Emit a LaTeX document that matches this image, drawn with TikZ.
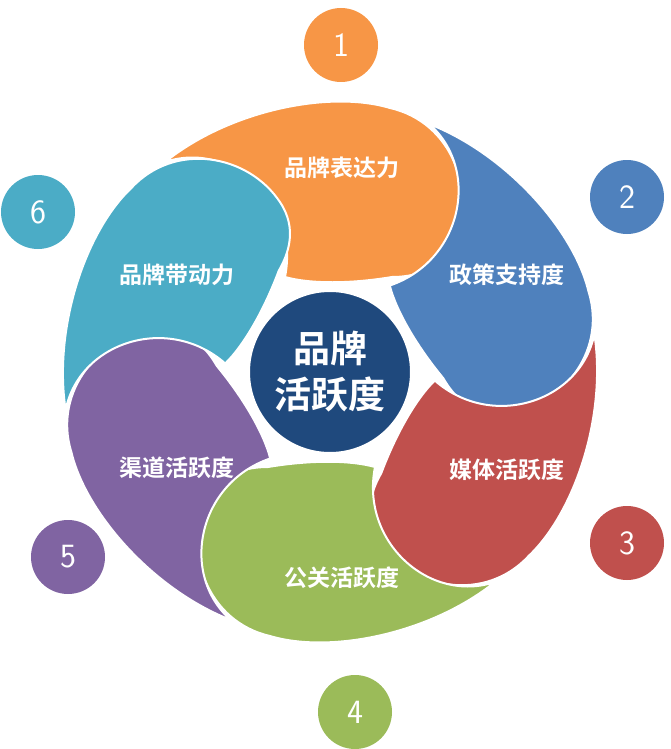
\documentclass[tikz,border=0pt]{standalone}
\usepackage{fontspec}
\newfontfamily\cjk{Noto Sans CJK SC Bold}
\definecolor{cO}{HTML}{F79646}
\definecolor{cB}{HTML}{4F81BD}
\definecolor{cR}{HTML}{C0504D}
\definecolor{cG}{HTML}{9BBB59}
\definecolor{cP}{HTML}{8064A2}
\definecolor{cT}{HTML}{4BACC6}
\definecolor{cC}{HTML}{1F497D}
\tikzset{
 petal/.style={fill=#1,draw=white,line width=2pt},
 plabel/.style={text=white,font=\cjk\fontsize{23}{26}\selectfont},
 numc/.style={circle,fill=#1,minimum size=74pt,inner sep=0pt,text=white,font=\sffamily\fontsize{34}{36}\selectfont}
}
\begin{document}
\begin{tikzpicture}[x=1pt,y=1pt]
\useasboundingbox (0,-749) rectangle (670,0);
\coordinate (c) at (330,-372);
\foreach \ang/\col in {0/cO,-60/cB,-120/cR,-180/cG,-240/cP,-300/cT}{
 \begin{scope}[shift={(c)},rotate=\ang]
  \path[petal=\col] (-165,210) .. controls (-100,262) and (0,282) .. (60,264)
    .. controls (122,250) and (148,180) .. (122,128)
    .. controls (108,100) and (82,95) .. (62,95)
    .. controls (20,88) and (-20,88) .. (-45,95)
    .. controls (-30,170) and (-100,232) .. (-165,210) -- cycle;
 \end{scope}}
\node[circle,fill=cC,draw=white,line width=2pt,minimum size=162pt] (ctr) at (c) {};
\node[text=white,font=\cjk\fontsize{37}{46}\selectfont,align=center] (ct) at (c) {品牌\\活跃度};
\node[plabel] (l1) at (342,-168) {品牌表达力};
\node[plabel] (l2) at (507,-275) {政策支持度};
\node[plabel] (l3) at (507,-470) {媒体活跃度};
\node[plabel] (l4) at (342,-578) {公关活跃度};
\node[plabel] (l5) at (177,-468) {渠道活跃度};
\node[plabel] (l6) at (177,-275) {品牌带动力};
\node[numc=cO] (n1) at (341,-45) {1};
\node[numc=cB] (n2) at (627,-197) {2};
\node[numc=cR] (n3) at (627,-543) {3};
\node[numc=cG] (n4) at (355,-712) {4};
\node[numc=cP] (n5) at (68,-557) {5};
\node[numc=cT] (n6) at (38,-212) {6};
\end{tikzpicture}
\end{document}
